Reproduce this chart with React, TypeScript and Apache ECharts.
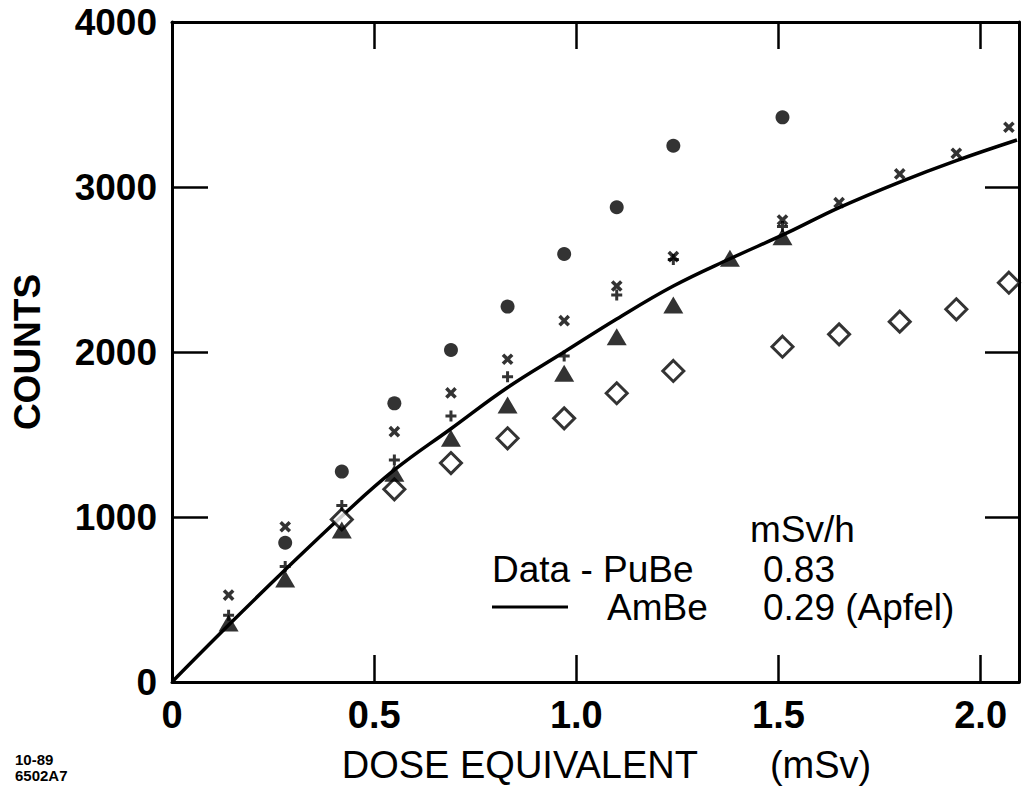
import React, { useEffect, useRef } from "react";
import * as echarts from "echarts";

// Dose equivalent (mSv) at which the detectors were read
const doses = [0.14, 0.28, 0.42, 0.55, 0.69, 0.83, 0.97, 1.10, 1.24, 1.38, 1.51, 1.65, 1.80, 1.94, 2.07];
// Counts per detector type (null = not plotted)
const circleCounts = [null, 844, 1275, 1689, 2012, 2275, 2594, 2877, 3250, null, 3422, null, null, null, null];
const crossCounts = [527, 941, null, 1517, 1752, 1956, 2190, 2400, 2578, null, 2800, 2905, 3079, 3204, 3362];
const plusCounts = [405, 700, 1070, 1345, 1612, 1850, 1976, 2345, 2560, null, 2760, null, null, null, null];
const triangleCounts = [358, 625, 921, 1265, 1477, 1679, 1871, 2093, 2285, 2568, 2699, null, null, null, null];
const diamondCounts = [null, null, 985, 1168, 1327, 1477, 1598, 1750, 1885, null, 2032, 2107, 2184, 2259, 2420];
// Fitted curve (AmBe)
const fitDoses = [0, 0.14, 0.28, 0.42, 0.55, 0.69, 0.83, 0.97, 1.10, 1.24, 1.38, 1.52, 1.65, 1.80, 1.94, 2.09];
const fitCounts = [0, 345, 680, 1005, 1285, 1535, 1785, 2000, 2200, 2400, 2565, 2720, 2875, 3030, 3160, 3285];

const xTicks = [0, 0.5, 1.0, 1.5, 2.0];
const yTicks = [0, 1000, 2000, 3000, 4000];

const legendHeader = "mSv/h";
const legendRows = [
  { label: "Data - PuBe", value: "0.83" },
  { label: "AmBe", value: "0.29 (Apfel)" },
];
const footer = ["10-89", "6502A7"];

const pairs = (xs: number[], ys: (number | null)[]) =>
  xs.map((x, i) => [x, ys[i]]).filter((p) => p[1] !== null);

const PLUS = "path://M4,0H7V4H11V7H7V11H4V7H0V4H4Z";
const FONT = "'Liberation Sans', Arial, Helvetica, sans-serif";

export default function App() {
  const ref = useRef<HTMLDivElement>(null);
  useEffect(() => {
    document.body.style.margin = "0";
    if (!ref.current) return;
    const chart = echarts.init(ref.current, null, { renderer: "svg" });
    const axisLine = { onZero: false, lineStyle: { color: "#000", width: 3 } };
    const tickStyle = { color: "#000", width: 2.5 };
    const xFmt = (v: number) =>
      xTicks.some((t) => Math.abs(t - v) < 1e-6) ? (v === 0 ? "0" : v.toFixed(1)) : "";
    const yFmt = (v: number) => (yTicks.includes(v) ? String(v) : "");
    const legendText = (text: string, x: number, y: number) => ({
      type: "text",
      x,
      y,
      style: { text, font: `37px ${FONT}`, fill: "#000", verticalAlign: "middle" },
    });
    chart.setOption({
      animation: false,
      backgroundColor: "#fff",
      grid: { left: 172, right: 8, top: 22, bottom: 107, containLabel: false },
      xAxis: [
        {
          type: "value",
          min: 0,
          max: 2.095,
          interval: 0.5,
          position: "bottom",
          splitLine: { show: false },
          axisLine,
          axisTick: { inside: true, length: 27, lineStyle: tickStyle },
          axisLabel: {
            formatter: xFmt,
            margin: 14,
            color: "#000",
            fontFamily: FONT,
            fontSize: 38,
            fontWeight: "bold",
            showMaxLabel: false,
          },
          name: "{a|DOSE EQUIVALENT}{g|}{a|(mSv)}",
          nameLocation: "middle",
          nameGap: 64,
          nameTextStyle: {
            padding: [0, 0, 0, 22],
            rich: {
              a: { fontFamily: FONT, fontSize: 38, color: "#000" },
              g: { width: 72 },
            },
          },
        },
        {
          type: "value",
          min: 0,
          max: 2.095,
          interval: 0.5,
          position: "top",
          splitLine: { show: false },
          axisLine,
          axisTick: { inside: true, length: 27, lineStyle: tickStyle },
          axisLabel: { show: false },
        },
      ],
      yAxis: [
        {
          type: "value",
          min: 0,
          max: 4000,
          interval: 1000,
          position: "left",
          splitLine: { show: false },
          axisLine,
          axisTick: { inside: true, length: 36, lineStyle: tickStyle },
          axisLabel: {
            formatter: yFmt,
            margin: 15,
            color: "#000",
            fontFamily: FONT,
            fontSize: 37,
            fontWeight: "bold",
          },
          name: "COUNTS",
          nameLocation: "middle",
          nameRotate: 90,
          nameGap: 126,
          nameTextStyle: { fontFamily: FONT, fontSize: 37, fontWeight: "bold", color: "#000" },
        },
        {
          type: "value",
          min: 0,
          max: 4000,
          interval: 1000,
          position: "right",
          splitLine: { show: false },
          axisLine,
          axisTick: { inside: true, length: 34, lineStyle: tickStyle },
          axisLabel: { show: false },
        },
      ],
      series: [
        {
          name: "AmBe fit",
          type: "line",
          data: pairs(fitDoses, fitCounts),
          smooth: 0.4,
          showSymbol: false,
          symbol: "none",
          lineStyle: { color: "#000", width: 3.5 },
          z: 1,
        },
        {
          name: "circles",
          type: "scatter",
          data: pairs(doses, circleCounts),
          symbol: "circle",
          symbolSize: 14,
          itemStyle: { color: "#000" },
          z: 3,
        },
        {
          name: "crosses",
          type: "scatter",
          data: pairs(doses, crossCounts),
          symbol: PLUS,
          symbolRotate: 45,
          symbolSize: 13,
          itemStyle: { color: "#000" },
          z: 3,
        },
        {
          name: "plus",
          type: "scatter",
          data: pairs(doses, plusCounts),
          symbol: PLUS,
          symbolSize: 11,
          itemStyle: { color: "#000" },
          z: 3,
        },
        {
          name: "triangles",
          type: "scatter",
          data: pairs(doses, triangleCounts),
          symbol: "triangle",
          symbolSize: [20, 17],
          itemStyle: { color: "#000" },
          z: 4,
        },
        {
          name: "diamonds",
          type: "scatter",
          data: pairs(doses, diamondCounts),
          symbol: "diamond",
          symbolSize: [21, 21],
          itemStyle: { color: "#fff", borderColor: "#000", borderWidth: 3 },
          z: 2,
        },
      ],
      graphic: [
        legendText(legendHeader, 750, 529),
        legendText(legendRows[0].label, 492, 569),
        legendText(legendRows[0].value, 763, 569),
        {
          type: "line",
          shape: { x1: 492, y1: 607, x2: 568, y2: 607 },
          style: { stroke: "#000", lineWidth: 3 },
        },
        legendText(legendRows[1].label, 607, 607),
        legendText(legendRows[1].value, 763, 607),
        {
          type: "text",
          x: 15,
          y: 759,
          style: { text: footer[0], font: `bold 15px ${FONT}`, fill: "#000", verticalAlign: "middle" },
        },
        {
          type: "text",
          x: 15,
          y: 775,
          style: { text: footer[1], font: `bold 15px ${FONT}`, fill: "#000", verticalAlign: "middle" },
        },
      ],
    });
    return () => chart.dispose();
  }, []);
  return <div ref={ref} style={{ width: 1027, height: 789 }} />;
}
